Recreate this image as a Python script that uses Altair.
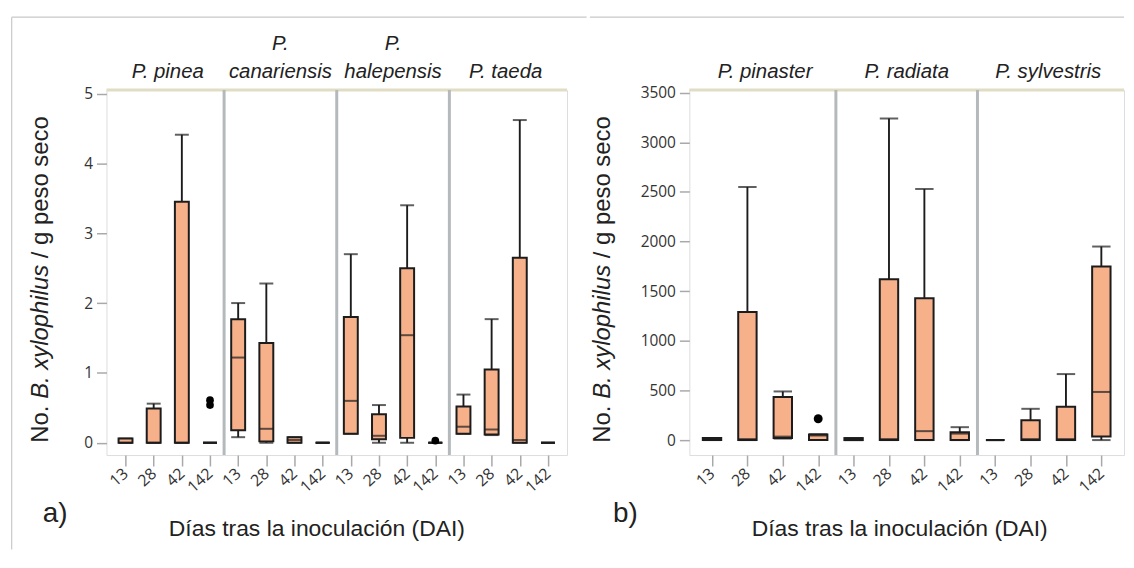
import altair as alt
import pandas as pd

days = ["13", "28", "42", "142"]

# ---------- panel a ----------
species_a = ["P. pinea", "P. canariensis", "P. halepensis", "P. taeda"]
header_top_a = ["", "P.", "P.", ""]
header_bottom_a = ["P. pinea", "canariensis", "halepensis", "P. taeda"]
a_min = [0.00, 0.00, 0.00, 0.00,  0.08, 0.00, 0.00, 0.00,  0.13, 0.00, 0.00, 0.00,  0.13, 0.11, 0.00, 0.00]
a_q1  = [0.00, 0.00, 0.00, 0.00,  0.18, 0.02, 0.00, 0.00,  0.13, 0.05, 0.07, 0.00,  0.13, 0.12, 0.00, 0.00]
a_med = [0.00, 0.00, 0.00, 0.00,  1.22, 0.20, 0.04, 0.00,  0.60, 0.10, 1.54, 0.00,  0.23, 0.19, 0.04, 0.00]
a_q3  = [0.06, 0.49, 3.45, 0.00,  1.77, 1.43, 0.08, 0.00,  1.80, 0.41, 2.50, 0.00,  0.52, 1.05, 2.65, 0.00]
a_max = [0.06, 0.56, 4.41, 0.00,  2.00, 2.28, 0.08, 0.00,  2.70, 0.54, 3.40, 0.00,  0.69, 1.77, 4.62, 0.00]
a_out_species = ["P. pinea", "P. pinea", "P. halepensis"]
a_out_day = ["142", "142", "142"]
a_out_val = [0.61, 0.54, 0.03]
a_yticks = [0, 1, 2, 3, 4, 5]

# ---------- panel b ----------
species_b = ["P. pinaster", "P. radiata", "P. sylvestris"]
header_top_b = ["", "", ""]
header_bottom_b = ["P. pinaster", "P. radiata", "P. sylvestris"]
b_min = [0, 0, 15, 0,    0, 0, 0, 0,       0, 0, 0, 0]
b_q1  = [0, 0, 20, 0,    0, 0, 0, 0,       0, 0, 0, 35]
b_med = [10, 10, 35, 45, 10, 10, 90, 65,   0, 10, 10, 485]
b_q3  = [20, 1290, 435, 55, 20, 1620, 1430, 80,  0, 200, 335, 1750]
b_max = [20, 2550, 490, 60, 20, 3240, 2530, 130, 0, 315, 665, 1950]
b_out_species = ["P. pinaster"]
b_out_day = ["142"]
b_out_val = [215]
b_yticks = [0, 500, 1000, 1500, 2000, 2500, 3000, 3500]

x_title = "Días tras la inoculación (DAI)"
y_title_parts = ["No.", "B. xylophilus", "/ g peso seco"]

H = 367
BOX_FILL = "#F6B18B"
INK = "#1c1c1c"
FRAME = "#B4B9BC"
FONT = "Liberation Sans"
TICKFONT = "Open Sans"


def panel(species, htop, hbot, mins, q1s, meds, q3s, maxs, osp, oday, oval,
          ydom, yticks, width, box_w, dot_size, ytitle_x, letter, letter_x,
          top_x, top_x2, left_border):
    n = len(species)
    rows = []
    for i, sp in enumerate(species):
        for j, d in enumerate(days):
            k = i * 4 + j
            rows.append(dict(species=sp, day=d, pos=i * 4 + j + 0.5, lo=mins[k], q1=q1s[k],
                             med=meds[k], q3=q3s[k], hi=maxs[k]))
    df = pd.DataFrame(rows)
    out = pd.DataFrame(dict(species=osp, day=oday, val=oval))
    out["pos"] = [species.index(s) * 4 + days.index(d) + 0.5 for s, d in zip(osp, oday)]
    hdr = pd.DataFrame(dict(species=species, top=htop, bot=hbot))
    hdr["pos"] = [i * 4 + 2 for i in range(n)]
    div = pd.DataFrame(dict(pos=[i * 4 for i in range(1, n)]))
    one = pd.DataFrame(dict(k=[0]))

    xs = alt.Scale(domain=[0, 4 * n], nice=False, zero=False)
    ys = alt.Scale(domain=ydom, nice=False, zero=False)
    xaxis = alt.Axis(values=[i + 0.5 for i in range(4 * n)],
                     labelExpr="['13','28','42','142'][floor(datum.value) % 4]",
                     labelAngle=318, labelAlign="right", labelBaseline="middle",
                     labelOverlap=False, labelFontSize=16, labelFont=TICKFONT, labelColor="#333333",
                     tickSize=11, tickColor="#A9A9A9", tickWidth=1.5, domain=False, grid=False,
                     labelPadding=5, title=None)
    yaxis = alt.Axis(values=yticks, format="d", labelFontSize=15.5, labelFont=TICKFONT,
                     labelOverlap=False,
                     labelColor="#333333", tickSize=10, tickColor="#A9A9A9", tickWidth=1.5,
                     domain=False, grid=False, labelPadding=4, title=None)

    def X():
        return alt.X("pos:Q", scale=xs, axis=xaxis, title=None)

    def Y(f):
        return alt.Y(f, scale=ys, axis=yaxis, title=None)

    top_line = alt.Chart(one).mark_rule(color="#E0DDC4", strokeWidth=3).encode(
        x=alt.value(0), x2=alt.value(width), y=alt.value(0))
    dividers = alt.Chart(div).mark_rule(color=FRAME, strokeWidth=3).encode(
        x=X(), y=alt.value(0), y2=alt.value(H))
    whisk = alt.Chart(df).mark_rule(color=INK, strokeWidth=1.9).encode(
        x=X(), y=Y("lo:Q"), y2="hi:Q")
    cap_hi = alt.Chart(df).mark_tick(orient="horizontal", size=box_w, thickness=2, color=INK).encode(
        x=X(), y=Y("hi:Q"))
    cap_lo = alt.Chart(df).mark_tick(orient="horizontal", size=box_w, thickness=2, color=INK).encode(
        x=X(), y=Y("lo:Q"))
    box = alt.Chart(df).mark_bar(size=box_w, fill=BOX_FILL, stroke=INK, strokeWidth=2,
                                 orient="vertical").encode(
        x=X(), y=Y("q1:Q"), y2="q3:Q")
    med = alt.Chart(df).mark_tick(orient="horizontal", size=box_w, thickness=2, color=INK).encode(
        x=X(), y=Y("med:Q"))
    dots = alt.Chart(out).mark_circle(size=dot_size, color="black", opacity=1).encode(
        x=X(), y=Y("val:Q"))
    h_bot = alt.Chart(hdr).mark_text(font=FONT, fontSize=20.5, fontStyle="italic", color="#222222",
                                      baseline="alphabetic", align="center").encode(
        x=X(), y=alt.value(-12.5), text="bot:N")
    h_top = alt.Chart(hdr).mark_text(font=FONT, fontSize=20.5, fontStyle="italic", color="#222222",
                                      baseline="alphabetic", align="center").encode(
        x=X(), y=alt.value(-40), text="top:N")

    # y title in three pieces (mixed italic); SVG drops edge spaces, so gaps are offsets
    fs = 24
    space = 0.278 * fs
    widths = [1.556 * fs, 5.613 * fs]
    y0 = 354.5
    ys_pos = [y0, y0 - widths[0] - space, y0 - widths[0] - space - widths[1] - space]
    styles = ["normal", "italic", "normal"]
    ytl = []
    for txt, yp, st in zip(y_title_parts, ys_pos, styles):
        ytl.append(alt.Chart(one).mark_text(text=txt, font=FONT, fontSize=fs, fontStyle=st,
                                            color="#222222", angle=270, align="left",
                                            baseline="alphabetic").encode(
            x=alt.value(ytitle_x), y=alt.value(yp)))
    xt = alt.Chart(one).mark_text(text=x_title, font=FONT, fontSize=23, color="#222222",
                                  align="center", baseline="alphabetic").encode(
        x=alt.value(211.5), y=alt.value(448.5))
    lt = alt.Chart(one).mark_text(text=letter, font=FONT, fontSize=28, color="#222222",
                                  align="left", baseline="alphabetic").encode(
        x=alt.value(letter_x), y=alt.value(434.5))
    border_top = alt.Chart(one).mark_rule(color="#C9C9C9", strokeWidth=1.2).encode(
        x=alt.value(top_x), x2=alt.value(top_x2), y=alt.value(-73.2))
    layers = [top_line, dividers, whisk, cap_hi, cap_lo, box, med, dots, h_bot, h_top] + ytl + [xt, lt, border_top]
    if left_border is not None:
        layers.append(alt.Chart(one).mark_rule(color="#C9C9C9", strokeWidth=1.2).encode(
            x=alt.value(left_border), y=alt.value(-73.2), y2=alt.value(462)))
    return alt.layer(*layers).properties(width=width, height=H)


pa = panel(species_a, header_top_a, header_bottom_a, a_min, a_q1, a_med, a_q3, a_max,
           a_out_species, a_out_day, a_out_val, [-0.176, 5.05], a_yticks, 463, 14, 60,
           -59, "a)", -64, -95.3, 482.7, -95.3)
pb = panel(species_b, header_top_b, header_bottom_b, b_min, b_q1, b_med, b_q3, b_max,
           b_out_species, b_out_day, b_out_val, [-151, 3527], b_yticks, 437, 18.5, 80,
           -80, "b)", -76.7, -100, 437, None)

chart = alt.hconcat(pa, pb, spacing=0).properties(
    padding={"left": 2, "top": 6, "right": 0, "bottom": 0}
).configure_view(fill="#F2F5F8", stroke=FRAME, strokeWidth=2.5).configure(background="white")

chart.save("out.html", embed_options={"renderer": "svg", "actions": False})
